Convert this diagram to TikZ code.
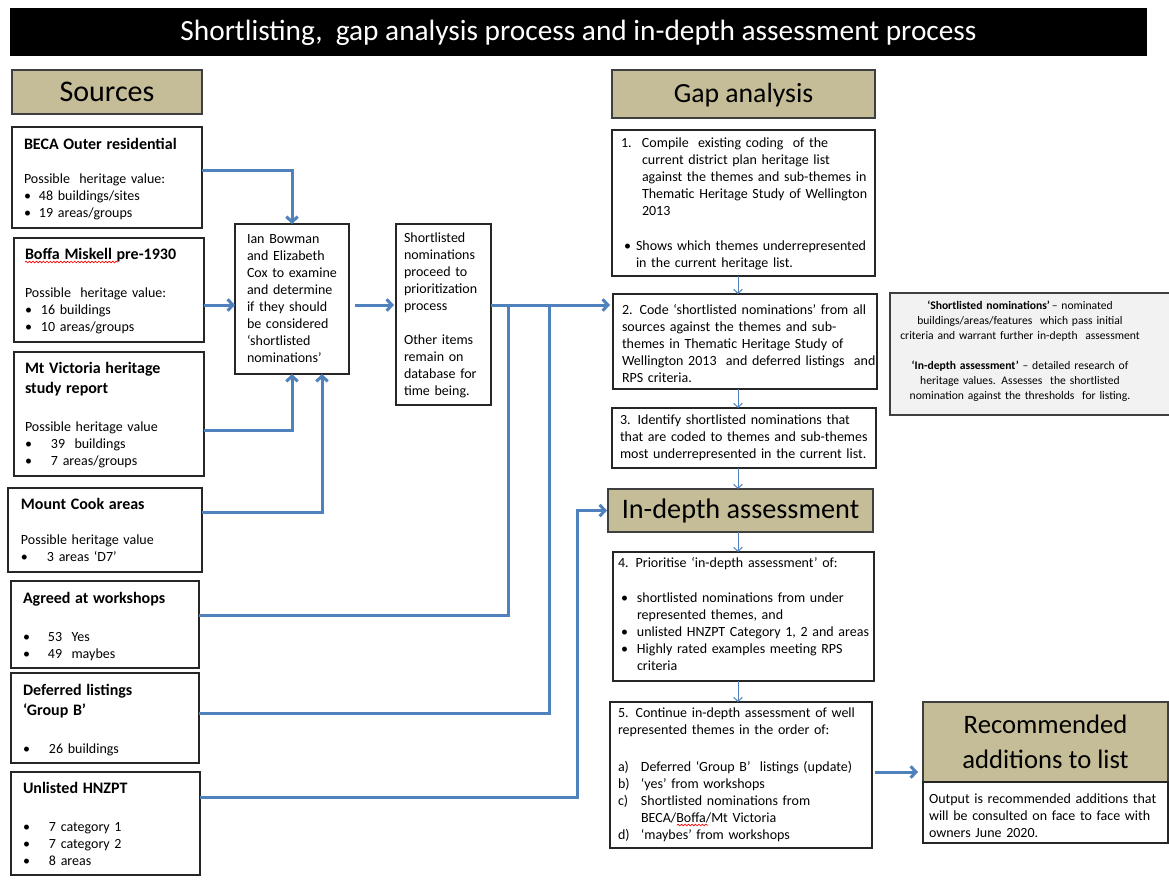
\documentclass[tikz,border=0pt]{standalone}
\usepackage{fontspec}
\setmainfont{Carlito}
\usetikzlibrary{arrows.meta,fit,decorations.pathmorphing}
\definecolor{headtan}{HTML}{C4BD97}
\definecolor{lineblue}{HTML}{4F81BD}
\definecolor{darkbord}{HTML}{3F3F3F}
\definecolor{defgray}{HTML}{F2F2F2}
\newcommand\fbody{\fontsize{10.5}{12.75}\selectfont}
\newcommand\fhead{\fontsize{12}{12.75}\selectfont\bfseries}
\newcommand\mybul[1]{\makebox[#1][l]{•}}
\begin{document}
\begin{tikzpicture}[x=0.75pt,y=-0.75pt,
 box/.style={draw=black!85, line width=0.8pt, fill=white, inner sep=0pt, outer sep=0pt},
 headbox/.style={draw=darkbord, line width=1.1pt, fill=headtan, inner sep=0pt, outer sep=0pt, align=center},
 txt/.style={anchor=base west, inner sep=0pt, outer sep=0pt, align=left, text width=230pt, font=\fbody},
 conn/.style={draw=lineblue, line width=2.25pt},
 tip/.style={-{Straight Barb[length=4pt,width=8.5pt]}},
 thinarr/.style={draw=lineblue, line width=0.75pt, -{Straight Barb[length=3pt,width=6.5pt]}},
 squig/.style={draw=red, line width=0.5pt, decorate, decoration={snake, amplitude=0.6pt, segment length=2.6pt}}]

\fill[white] (0,0) rectangle (1169,879);
\useasboundingbox (0,0) rectangle (1169,879);

% title
\node[fill=black, inner sep=0pt, text height=13.2pt, text depth=0pt, minimum width=852.75pt, minimum height=36pt, text=white, font=\fontsize{22}{26}\selectfont] (title) at (578.5,32) {Shortlisting,\ \ gap analysis process and in-depth assessment process};

% ---------- sources column
\node[headbox, text height=13.5pt, text depth=0pt, minimum width=142.5pt, minimum height=33pt, font=\fontsize{22.5}{27}\selectfont] (srchead) at (107,92) {Sources};

\node[box, fit={(12,127) (202,228)}] (beca) {};
\node[txt] (beca-t) at (24,149) {{\fhead BECA Outer residential}\\[12.75pt]
Possible\ \ heritage value:\\
\mybul{11.25pt}48 buildings/sites\\
\mybul{11.25pt}19 areas/groups};

\node[box, fit={(14,238) (204,342)}] (boffa) {};
\node[txt] (boffa-t) at (25,259) {{\fhead Boffa Miskell pre-1930}\\[15.75pt]
Possible\ \ heritage value:\\
\mybul{12pt}16 buildings\\
\mybul{12pt}10 areas/groups};

\node[box, fit={(14,352) (204,476)}] (mtvic) {};
\node[txt] (mtvic-t) at (25,373) {{\fhead Mt Victoria heritage}\\[2.25pt]
{\fhead study report}\\[15.75pt]
Possible heritage value\\
\mybul{19.5pt}39\ \ buildings\\
\mybul{19.5pt}7 areas/groups};

\node[box, fit={(8,488) (202,572)}] (cook) {};
\node[txt] (cook-t) at (21,509) {{\fhead Mount Cook areas}\\[13.5pt]
Possible heritage value\\
\mybul{19.5pt}3 areas ‘D7’};

\node[box, fit={(11,581) (199,668)}] (agreed) {};
\node[txt] (agreed-t) at (23,603) {{\fhead Agreed at workshops}\\[15.75pt]
\mybul{18.75pt}53\ \ Yes\\
\mybul{18.75pt}49\ \ maybes};

\node[box, fit={(11,673) (199,763)}] (deferred) {};
\node[txt] (deferred-t) at (23,695) {{\fhead Deferred listings}\\[2.25pt]
{\fhead ‘Group B’}\\[15.75pt]
\mybul{19.5pt}26 buildings};

\node[box, fit={(11,772) (200,875)}] (unlisted) {};
\node[txt] (unlisted-t) at (23,793) {{\fhead Unlisted HNZPT}\\[15.75pt]
\mybul{19.5pt}7 category 1\\
\mybul{19.5pt}7 category 2\\
\mybul{19.5pt}8 areas};

% ---------- middle
\node[box, fit={(235,224) (349,374)}] (ian) {};
\node[txt] (ian-t) at (247,243) {Ian Bowman\\
and Elizabeth\\
Cox to examine\\
and determine\\
if they should\\
be considered\\
‘shortlisted\\
nominations’};

\node[box, fit={(396,224) (491,405)}] (short) {};
\node[txt] (short-t) at (404,242) {Shortlisted\\
nominations\\
proceed to\\
prioritization\\
process\\[12.75pt]
Other items\\
remain on\\
database for\\
time being.};

% ---------- gap analysis column
\node[headbox, text height=12.5pt, text depth=0pt, minimum width=197.25pt, minimum height=36pt, font=\fontsize{20.8}{25}\selectfont] (gaphead) at (743.5,94) {Gap analysis};

\node[box, fit={(612,130) (875,276)}] (box1) {};
\node[txt] (box1-t) at (621,147) {\makebox[15.75pt][l]{1.}Compile\ \ existing coding\ \ of the\\
\hspace*{15.75pt}current district plan heritage list\\
\hspace*{15.75pt}against the themes and sub-themes in\\
\hspace*{15.75pt}Thematic Heritage Study of Wellington\\
\hspace*{15.75pt}2013\\[13.5pt]
\hspace*{2.25pt}\mybul{9pt}Shows which themes underrepresented\\
\hspace*{11.25pt}in the current heritage list.};

\node[box, fit={(613,294) (877,389)}] (box2) {};
\node[txt] (box2-t) at (622,314) {2. Code ‘shortlisted nominations’ from all\\
sources against the themes and sub-\\
themes in Thematic Heritage Study of\\
Wellington 2013\ \ and deferred listings\ \ and\\
RPS criteria.};

\node[box, fit={(612,408) (876,468)}] (box3) {};
\node[txt] (box3-t) at (620,424) {3. Identify shortlisted nominations that\\
that are coded to themes and sub-themes\\
most underrepresented in the current list.};

\node[draw=darkbord, line width=1.1pt, fill=defgray, inner sep=0pt, fit={(890,293) (1178,415)}] (defs) {};
\node[anchor=base, inner sep=0pt, align=center, text width=270pt, font=\fontsize{8.7}{11.25}\selectfont] (defs-t) at (1020,309) {{\bfseries ‘Shortlisted nominations’}\,– nominated\\
buildings/areas/features\ \ which pass initial\\
criteria and warrant further in-depth\ \ assessment\\[11.25pt]
{\bfseries ‘In-depth assessment’} – detailed research of\\
heritage values. Assesses\ \ the shortlisted\\
nomination against the thresholds\ \ for listing.};

\node[headbox, text height=12.7pt, text depth=0pt, minimum width=198.75pt, minimum height=32.25pt, font=\fontsize{21.2}{25}\selectfont] (indepth) at (740.5,510.5) {In-depth assessment};

\node[box, fit={(613,552) (874,681)}] (box4) {};
\node[txt] (box4-t) at (618,567) {4. Prioritise ‘in-depth assessment’ of:\\[13.5pt]
\hspace*{2.25pt}\mybul{12pt}shortlisted nominations from under\\
\hspace*{14.25pt}represented themes, and\\
\hspace*{2.25pt}\mybul{12pt}unlisted HNZPT Category 1, 2 and areas\\
\hspace*{2.25pt}\mybul{12pt}Highly rated examples meeting RPS\\
\hspace*{14.25pt}criteria};

\node[box, fit={(610,702) (872,848)}] (box5) {};
\node[txt] (box5-t) at (618,717) {5. Continue in-depth assessment of well\\
represented themes in the order of:\\[15pt]
\makebox[17.25pt][l]{a)}Deferred ‘Group B’\ \ listings (update)\\
\makebox[17.25pt][l]{b)}‘yes’ from workshops\\
\makebox[17.25pt][l]{c)}Shortlisted nominations from\\
\hspace*{17.25pt}BECA/Boffa/Mt Victoria\\
\makebox[17.25pt][l]{d)}‘maybes’ from workshops};

\node[headbox, minimum width=183.75pt, minimum height=60pt, font=\fontsize{20}{26.25}\selectfont] (rec) at (1045.5,742) {Recommended\\additions to list};
\node[box, fit={(923,782) (1168,843)}] (recbox) {};
\node[txt] (rec-t) at (929,803) {Output is recommended additions that\\
will be consulted on face to face with\\
owners June 2020.};

% spell-check squiggles
\draw[squig] (25,262) -- (118,262);
\draw[squig] (677,825) -- (708,825);

% ---------- connectors
\coordinate (jn) at ([yshift=7.125pt]short.east);
\coordinate (ja) at ([xshift=12.75pt]jn);
\coordinate (jd) at ([xshift=43.5pt]jn);
\coordinate (boffaout) at ([yshift=-11.25pt]boffa.east);
\coordinate (ianout) at ([yshift=-4.5pt]ian.east);
\coordinate (unlout) at ([yshift=19.875pt]unlisted.east);
\coordinate (bend) at ([xshift=-23.25pt]indepth.west);
\coordinate (b5out) at ([yshift=2.25pt]box5.east);
\coordinate (axis) at (738,0);

\draw[conn,tip] ([yshift=5.625pt]beca.east) -| (ian.north);
\draw[conn,tip] (boffaout) -- (boffaout -| ian.west);
\draw[conn,tip] ([yshift=-12pt]mtvic.east) -| (ian.south);
\draw[conn,tip] ([yshift=13.5pt]cook.east) -| ([xshift=22.5pt]ian.south);
\draw[conn,tip,shorten <=4.5pt,shorten >=1.5pt] (ianout) -- (ianout -| short.west);
\draw[conn,tip,shorten >=2.25pt] (jn) -- (jn -| box2.west);
\draw[conn] ([yshift=7.125pt]agreed.east) -| (ja);
\draw[conn] ([yshift=3.75pt]deferred.east) -| (jd);
\draw[conn,tip,shorten >=0.75pt] (unlout) -| (bend) -- (indepth.west);
\draw[conn,tip,shorten <=2.25pt,shorten >=3.75pt] (b5out) -- (b5out -| rec.west);

\draw[thinarr] (axis |- box1.south) -- (axis |- box2.north);
\draw[thinarr] (axis |- box2.south) -- (axis |- box3.north);
\draw[thinarr] (axis |- box3.south) -- (axis |- indepth.north);
\draw[thinarr] (axis |- indepth.south) -- (axis |- box4.north);
\draw[thinarr] (axis |- box4.south) -- (axis |- box5.north);
\end{tikzpicture}
\end{document}
